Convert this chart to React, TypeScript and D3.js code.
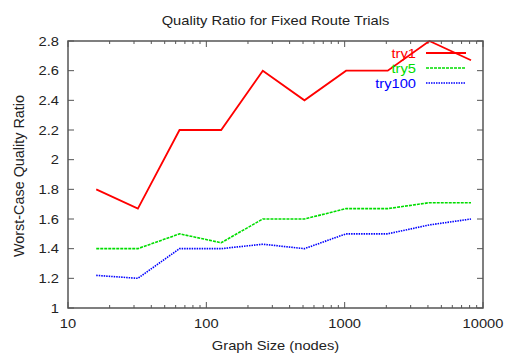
import * as d3 from "d3"

const sizes = [16, 32, 64, 128, 256, 512, 1024, 2048, 4096, 8192]
const try1 = [1.8, 1.67, 2.2, 2.2, 2.6, 2.4, 2.6, 2.6, 2.8, 2.67]
const try5 = [1.4, 1.4, 1.5, 1.44, 1.6, 1.6, 1.67, 1.67, 1.71, 1.71]
const try100 = [1.22, 1.2, 1.4, 1.4, 1.43, 1.4, 1.5, 1.5, 1.56, 1.6]
const xTicks = [10, 100, 1000, 10000]
const yTicks = [1, 1.2, 1.4, 1.6, 1.8, 2, 2.2, 2.4, 2.6, 2.8]

const seriesList = [
  { name: "try1", values: try1, color: "#ff0000", dash: "none" },
  { name: "try5", values: try5, color: "#00dd00", dash: "3,1" },
  { name: "try100", values: try100, color: "#0000ff", dash: "1.5,1" },
]

const W = 505
const H = 354
const margin = { top: 41, right: 22, bottom: 46, left: 68 }
const FONT = "Liberation Sans, Arial, sans-serif"
const AXIS = "#555"
const SX = 1.13 // the reference text looks a bit stretched sideways

// horizontal text, slightly widened
function T({ x, y, anchor, size = 13, fill = "#222", children }:
  { x: number; y: number; anchor: string; size?: number; fill?: string; children: any }) {
  return (
    <g transform={`translate(${x},${y}) scale(${SX},1)`}>
      <text textAnchor={anchor} fontFamily={FONT} fontSize={size} fill={fill}>{children}</text>
    </g>
  )
}

export default function App() {
  const x = d3.scaleLog().domain([10, 10000]).range([margin.left, W - margin.right])
  const y = d3.scaleLinear().domain([1, 2.8]).range([H - margin.bottom, margin.top])
  const line = d3.line<number>().x((_, i) => x(sizes[i])).y(d => y(d))

  // minor ticks on log axis
  const minor: number[] = []
  for (let p = 10; p < 10000; p *= 10) {
    for (let k = 2; k <= 9; k++) minor.push(p * k)
  }

  const x0 = margin.left, x1 = W - margin.right
  const y0 = H - margin.bottom, y1 = margin.top

  return (
    <div style={{ position: "fixed", left: 0, top: 0 }}>
      <svg width={W} height={H} style={{ display: "block", background: "#fff" }}>
        <T x={275.5} y={25} anchor="middle" size={13}>Quality Ratio for Fixed Route Trials</T>

        {/* minor x ticks */}
        {minor.map(v => (
          <g key={"m" + v} stroke={AXIS} strokeWidth={1}>
            <line x1={x(v)} x2={x(v)} y1={y0} y2={y0 - 3} />
            <line x1={x(v)} x2={x(v)} y1={y1} y2={y1 + 3} />
          </g>
        ))}
        {xTicks.map(v => (
          <g key={"x" + v}>
            <line x1={x(v)} x2={x(v)} y1={y0} y2={y0 - 6} stroke={AXIS} />
            <line x1={x(v)} x2={x(v)} y1={y1} y2={y1 + 6} stroke={AXIS} />
            <T x={x(v)} y={y0 + 20} anchor="middle">{v}</T>
          </g>
        ))}
        {yTicks.map(v => (
          <g key={"y" + v}>
            <line x1={x0} x2={x0 + 6} y1={y(v)} y2={y(v)} stroke={AXIS} />
            <line x1={x1} x2={x1 - 6} y1={y(v)} y2={y(v)} stroke={AXIS} />
            <T x={x0 - 9} y={y(v) + 4.5} anchor="end">{d3.format("~g")(v)}</T>
          </g>
        ))}

        {seriesList.map(s => (
          <path key={s.name} d={line(s.values) || ""} fill="none" stroke={s.color}
            strokeWidth={s.name === "try1" ? 1.8 : 1.6} strokeDasharray={s.dash} />
        ))}

        {/* legend */}
        {seriesList.map((s, i) => (
          <g key={"l" + s.name}>
            <T x={416} y={57.5 + i * 15} anchor="end" fill={s.color}>{s.name}</T>
            <line x1={426} x2={466} y1={53 + i * 15} y2={53 + i * 15} stroke={s.color}
              strokeWidth={s.name === "try1" ? 1.8 : 1.6} strokeDasharray={s.dash} />
          </g>
        ))}

        <rect x={x0} y={y1} width={x1 - x0} height={y0 - y1} fill="none" stroke={AXIS} strokeWidth={1.5} />

        <T x={(x0 + x1) / 2} y={350} anchor="middle">Graph Size (nodes)</T>
        <text transform={`translate(24,176) rotate(-90)`} textAnchor="middle"
          fontFamily={FONT} fontSize={14.4} fill="#222">
          Worst-Case Quality Ratio
        </text>
      </svg>
    </div>
  )
}
